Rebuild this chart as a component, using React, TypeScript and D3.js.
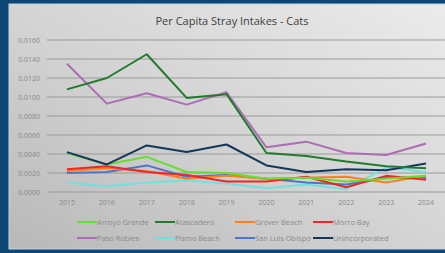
import * as d3 from 'd3';

const W = 445;
const H = 253;

const years = ['2015', '2016', '2017', '2018', '2019', '2020', '2021', '2022', '2023', '2024'];
const yTicks = [0, 0.002, 0.004, 0.006, 0.008, 0.01, 0.012, 0.014, 0.016];

const arroyoGrande = [0.0041, 0.0029, 0.0037, 0.0021, 0.0020, 0.0014, 0.0015, 0.0011, 0.0014, 0.0017];
const atascadero = [0.0108, 0.0120, 0.0145, 0.0099, 0.0103, 0.0041, 0.0038, 0.0032, 0.0027, 0.0025];
const groverBeach = [0.0022, 0.0025, 0.0022, 0.0014, 0.0017, 0.0014, 0.0015, 0.0016, 0.0010, 0.0017];
const morroBay = [0.0024, 0.0027, 0.0021, 0.0018, 0.0011, 0.0011, 0.0016, 0.0005, 0.0017, 0.0013];
const pasoRobles = [0.0135, 0.0093, 0.0104, 0.0092, 0.0105, 0.0047, 0.0053, 0.0041, 0.0039, 0.0051];
const pismoBeach = [0.0010, 0.0006, 0.0010, 0.0012, 0.0009, 0.0004, 0.0008, 0.0003, 0.0026, 0.0021];
const sanLuisObispo = [0.0020, 0.0021, 0.0028, 0.0016, 0.0018, 0.0014, 0.0010, 0.0008, 0.0015, 0.0015];
const unincorporated = [0.0042, 0.0029, 0.0049, 0.0042, 0.0050, 0.0028, 0.0021, 0.0024, 0.0023, 0.0030];

const series = [
    { name: 'Arroyo Grande', values: arroyoGrande, color: '#66dd33' },
    { name: 'Atascadero', values: atascadero, color: '#227a2c' },
    { name: 'Grover Beach', values: groverBeach, color: '#ff7f1e' },
    { name: 'Morro Bay', values: morroBay, color: '#e8282a' },
    { name: 'Paso Robles', values: pasoRobles, color: '#ae6cb4' },
    { name: 'Pismo Beach', values: pismoBeach, color: '#72e0dc' },
    { name: 'San Luis Obispo', values: sanLuisObispo, color: '#4a78c8' },
    { name: 'Unincorporated', values: unincorporated, color: '#13365c' },
];

// draw order: back to front
const drawOrder = ['Pismo Beach', 'San Luis Obispo', 'Grover Beach', 'Morro Bay', 'Arroyo Grande', 'Unincorporated', 'Paso Robles', 'Atascadero'];

export default function App() {
    const marginLeft = 47;
    const plotRight = 446;
    const yTop = 40;
    const yBottom = 192;

    const x = d3.scaleBand<string>().domain(years).range([marginLeft, plotRight]);
    const y = d3.scaleLinear().domain([0, 0.016]).range([yBottom, yTop]);

    const line = d3.line<number>()
        .x((_, i) => (x(years[i]) ?? 0) + x.bandwidth() / 2)
        .y((d) => y(d));

    const font = '"Open Sans", "Liberation Sans", sans-serif';
    const legendCols = [77, 155, 235, 313];
    const legendRows = [222, 238];

    return (
        <div style={{ position: 'fixed', left: 0, top: 0 }}>
            <svg width={W} height={H} style={{ display: 'block' }}>
                <defs>
                    <linearGradient id="panel" x1="0" y1="1" x2="1" y2="0">
                        <stop offset="0%" stopColor="#b8b8b8" />
                        <stop offset="45%" stopColor="#d2d2d2" />
                        <stop offset="100%" stopColor="#ececec" />
                    </linearGradient>
                </defs>
                <rect width={W} height={H} fill="#0e4676" />
                <rect x={9} y={4} width={W} height={245} fill="url(#panel)" stroke="#c6d3de" strokeWidth={1} />

                <text x={232} y={25} textAnchor="middle" fontSize={11} fill="#404040" fontFamily={font}>
                    Per Capita Stray Intakes - Cats
                </text>

                {yTicks.map((t) => (
                    <g key={t}>
                        <line x1={marginLeft} x2={plotRight} y1={y(t)} y2={y(t)} stroke="#9a9a9a" strokeWidth={1} />
                        <text x={40} y={y(t) + 2.5} textAnchor="end" fontSize={7} fill="#8a8a8a" fontFamily={font}>
                            {t.toFixed(4)}
                        </text>
                    </g>
                ))}

                {years.map((yr) => (
                    <text key={yr} x={(x(yr) ?? 0) + x.bandwidth() / 2} y={205} textAnchor="middle" fontSize={7} fill="#8a8a8a" fontFamily={font}>
                        {yr}
                    </text>
                ))}

                {drawOrder.map((name) => {
                    const s = series.find((d) => d.name === name)!;
                    return (
                        <path key={name} d={line(s.values) || ''} fill="none" stroke={s.color} strokeWidth={2} strokeLinejoin="round" />
                    );
                })}

                {series.map((s, i) => {
                    const lx = legendCols[i % 4];
                    const ly = legendRows[Math.floor(i / 4)];
                    return (
                        <g key={s.name}>
                            <line x1={lx} x2={lx + 20} y1={ly} y2={ly} stroke={s.color} strokeWidth={2} />
                            <text x={lx + 20} y={ly + 2.5} fontSize={7.5} fill="#8a8a8a" fontFamily={font}>
                                {s.name}
                            </text>
                        </g>
                    );
                })}
            </svg>
        </div>
    );
}
